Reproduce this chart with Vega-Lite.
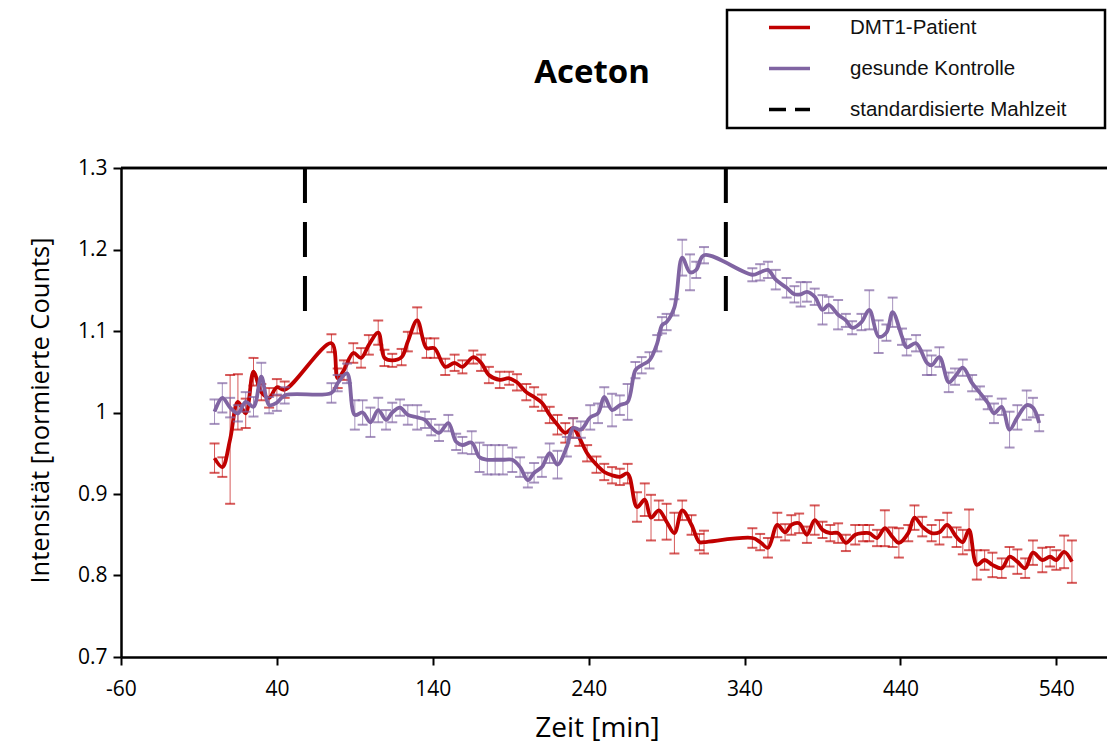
{
  "$schema": "https://vega.github.io/schema/vega-lite/v6.json",
  "width": 986,
  "height": 489,
  "autosize": {"type": "none"},
  "padding": {"left": 121, "top": 168, "right": 0, "bottom": 87},
  "background": "white",
  "title": {"text": "Aceton", "font": "Open Sans", "fontSize": 33, "fontWeight": "bold", "color": "#000000", "anchor": "middle", "dx": -22, "offset": 0, "dy": 107, "baseline": "alphabetic"},
  "datasets": {
    "patient": [
      {"t": 0, "v": 0.944, "e": 0.018}, {"t": 5, "v": 0.933, "e": 0.012}, {"t": 10, "v": 0.967, "e": 0.079}, {"t": 15, "v": 1.013, "e": 0.034}, {"t": 20, "v": 0.999, "e": 0.018}, {"t": 25, "v": 1.05, "e": 0.017}, {"t": 30, "v": 1.025, "e": 0.01}, {"t": 35, "v": 1.018, "e": 0.012}, {"t": 40, "v": 1.031, "e": 0.01}, {"t": 45, "v": 1.028, "e": 0.01},
      {"t": 75, "v": 1.085, "e": 0.011}, {"t": 79, "v": 1.042, "e": 0.012}, {"t": 83, "v": 1.052, "e": 0.012}, {"t": 89, "v": 1.073, "e": 0.012}, {"t": 94, "v": 1.067, "e": 0.012}, {"t": 99, "v": 1.083, "e": 0.012}, {"t": 105, "v": 1.098, "e": 0.015}, {"t": 109, "v": 1.067, "e": 0.01}, {"t": 114, "v": 1.064, "e": 0.008}, {"t": 120, "v": 1.068, "e": 0.01}, {"t": 124, "v": 1.087, "e": 0.012}, {"t": 130, "v": 1.113, "e": 0.016}, {"t": 136, "v": 1.079, "e": 0.012}, {"t": 141, "v": 1.079, "e": 0.012}, {"t": 148, "v": 1.056, "e": 0.01}, {"t": 154, "v": 1.061, "e": 0.01}, {"t": 159, "v": 1.056, "e": 0.008}, {"t": 166, "v": 1.068, "e": 0.008}, {"t": 171, "v": 1.061, "e": 0.01}, {"t": 176, "v": 1.046, "e": 0.01}, {"t": 183, "v": 1.04, "e": 0.01}, {"t": 189, "v": 1.042, "e": 0.008}, {"t": 194, "v": 1.037, "e": 0.01}, {"t": 200, "v": 1.025, "e": 0.01}, {"t": 205, "v": 1.019, "e": 0.012}, {"t": 210, "v": 1.012, "e": 0.01}, {"t": 215, "v": 0.997, "e": 0.01}, {"t": 220, "v": 0.985, "e": 0.012}, {"t": 225, "v": 0.975, "e": 0.012}, {"t": 230, "v": 0.981, "e": 0.012}, {"t": 234, "v": 0.969, "e": 0.01}, {"t": 239, "v": 0.95, "e": 0.01}, {"t": 245, "v": 0.936, "e": 0.01}, {"t": 250, "v": 0.927, "e": 0.01}, {"t": 255, "v": 0.923, "e": 0.01}, {"t": 260, "v": 0.921, "e": 0.01}, {"t": 265, "v": 0.925, "e": 0.012}, {"t": 271, "v": 0.884, "e": 0.018}, {"t": 276, "v": 0.893, "e": 0.02}, {"t": 280, "v": 0.871, "e": 0.028}, {"t": 285, "v": 0.88, "e": 0.012}, {"t": 290, "v": 0.866, "e": 0.022}, {"t": 295, "v": 0.852, "e": 0.025}, {"t": 300, "v": 0.88, "e": 0.012}, {"t": 306, "v": 0.862, "e": 0.012}, {"t": 311, "v": 0.841, "e": 0.01}, {"t": 314, "v": 0.841, "e": 0.014},
      {"t": 345, "v": 0.846, "e": 0.012}, {"t": 350, "v": 0.841, "e": 0.01}, {"t": 355, "v": 0.834, "e": 0.012}, {"t": 361, "v": 0.862, "e": 0.015}, {"t": 366, "v": 0.853, "e": 0.01}, {"t": 370, "v": 0.862, "e": 0.012}, {"t": 375, "v": 0.864, "e": 0.012}, {"t": 380, "v": 0.85, "e": 0.01}, {"t": 385, "v": 0.868, "e": 0.018}, {"t": 390, "v": 0.856, "e": 0.01}, {"t": 395, "v": 0.852, "e": 0.01}, {"t": 400, "v": 0.852, "e": 0.012}, {"t": 405, "v": 0.84, "e": 0.01}, {"t": 411, "v": 0.85, "e": 0.012}, {"t": 416, "v": 0.852, "e": 0.01}, {"t": 420, "v": 0.852, "e": 0.01}, {"t": 425, "v": 0.846, "e": 0.01}, {"t": 430, "v": 0.858, "e": 0.022}, {"t": 435, "v": 0.847, "e": 0.012}, {"t": 439, "v": 0.84, "e": 0.018}, {"t": 445, "v": 0.852, "e": 0.01}, {"t": 449, "v": 0.871, "e": 0.015}, {"t": 454, "v": 0.86, "e": 0.012}, {"t": 460, "v": 0.852, "e": 0.01}, {"t": 465, "v": 0.853, "e": 0.015}, {"t": 470, "v": 0.862, "e": 0.015}, {"t": 476, "v": 0.847, "e": 0.012}, {"t": 480, "v": 0.841, "e": 0.015}, {"t": 484, "v": 0.856, "e": 0.025}, {"t": 489, "v": 0.813, "e": 0.018}, {"t": 494, "v": 0.819, "e": 0.012}, {"t": 499, "v": 0.813, "e": 0.015}, {"t": 505, "v": 0.809, "e": 0.012}, {"t": 510, "v": 0.823, "e": 0.012}, {"t": 515, "v": 0.817, "e": 0.015}, {"t": 520, "v": 0.809, "e": 0.012}, {"t": 525, "v": 0.828, "e": 0.015}, {"t": 531, "v": 0.819, "e": 0.015}, {"t": 536, "v": 0.823, "e": 0.012}, {"t": 540, "v": 0.819, "e": 0.012}, {"t": 545, "v": 0.829, "e": 0.02}, {"t": 550, "v": 0.817, "e": 0.026}
    ],
    "kontrolle": [
      {"t": 0, "v": 1.001, "e": 0.015}, {"t": 5, "v": 1.018, "e": 0.018}, {"t": 10, "v": 1.006, "e": 0.012}, {"t": 15, "v": 0.999, "e": 0.01}, {"t": 20, "v": 1.013, "e": 0.012}, {"t": 25, "v": 1.007, "e": 0.012}, {"t": 30, "v": 1.044, "e": 0.017}, {"t": 35, "v": 1.009, "e": 0.01}, {"t": 40, "v": 1.012, "e": 0.01}, {"t": 45, "v": 1.021, "e": 0.01},
      {"t": 75, "v": 1.024, "e": 0.012}, {"t": 79, "v": 1.036, "e": 0.01}, {"t": 85, "v": 1.048, "e": 0.012}, {"t": 90, "v": 0.997, "e": 0.018}, {"t": 95, "v": 1.0, "e": 0.015}, {"t": 100, "v": 0.988, "e": 0.018}, {"t": 105, "v": 1.003, "e": 0.015}, {"t": 110, "v": 0.991, "e": 0.012}, {"t": 114, "v": 1.0, "e": 0.012}, {"t": 119, "v": 1.006, "e": 0.01}, {"t": 124, "v": 0.997, "e": 0.012}, {"t": 130, "v": 0.994, "e": 0.015}, {"t": 135, "v": 0.991, "e": 0.01}, {"t": 139, "v": 0.982, "e": 0.01}, {"t": 144, "v": 0.975, "e": 0.01}, {"t": 150, "v": 0.987, "e": 0.01}, {"t": 155, "v": 0.964, "e": 0.01}, {"t": 159, "v": 0.96, "e": 0.01}, {"t": 165, "v": 0.963, "e": 0.014}, {"t": 170, "v": 0.945, "e": 0.018}, {"t": 175, "v": 0.942, "e": 0.018}, {"t": 180, "v": 0.942, "e": 0.018}, {"t": 185, "v": 0.942, "e": 0.018}, {"t": 191, "v": 0.942, "e": 0.015}, {"t": 196, "v": 0.933, "e": 0.012}, {"t": 201, "v": 0.917, "e": 0.009}, {"t": 205, "v": 0.926, "e": 0.012}, {"t": 210, "v": 0.933, "e": 0.012}, {"t": 215, "v": 0.95, "e": 0.012}, {"t": 220, "v": 0.936, "e": 0.017}, {"t": 226, "v": 0.958, "e": 0.012},
      {"t": 230, "v": 0.981, "e": 0.012}, {"t": 235, "v": 0.979, "e": 0.01}, {"t": 241, "v": 0.994, "e": 0.015}, {"t": 246, "v": 0.999, "e": 0.012}, {"t": 250, "v": 1.019, "e": 0.012}, {"t": 255, "v": 1.003, "e": 0.02}, {"t": 260, "v": 1.009, "e": 0.012}, {"t": 265, "v": 1.013, "e": 0.022}, {"t": 270, "v": 1.052, "e": 0.01}, {"t": 274, "v": 1.058, "e": 0.01}, {"t": 279, "v": 1.064, "e": 0.01}, {"t": 284, "v": 1.085, "e": 0.01}, {"t": 287, "v": 1.107, "e": 0.01}, {"t": 290, "v": 1.111, "e": 0.01}, {"t": 295, "v": 1.129, "e": 0.01}, {"t": 300, "v": 1.19, "e": 0.022}, {"t": 305, "v": 1.172, "e": 0.022}, {"t": 309, "v": 1.175, "e": 0.01}, {"t": 314, "v": 1.193, "e": 0.01},
      {"t": 345, "v": 1.169, "e": 0.008}, {"t": 350, "v": 1.172, "e": 0.01}, {"t": 355, "v": 1.175, "e": 0.01}, {"t": 360, "v": 1.163, "e": 0.012}, {"t": 367, "v": 1.153, "e": 0.012}, {"t": 372, "v": 1.145, "e": 0.01}, {"t": 376, "v": 1.145, "e": 0.015}, {"t": 380, "v": 1.148, "e": 0.012}, {"t": 385, "v": 1.142, "e": 0.01}, {"t": 390, "v": 1.126, "e": 0.018}, {"t": 394, "v": 1.132, "e": 0.01}, {"t": 400, "v": 1.12, "e": 0.018}, {"t": 405, "v": 1.113, "e": 0.008}, {"t": 409, "v": 1.104, "e": 0.008}, {"t": 415, "v": 1.111, "e": 0.01}, {"t": 420, "v": 1.126, "e": 0.024}, {"t": 426, "v": 1.093, "e": 0.02}, {"t": 431, "v": 1.098, "e": 0.01}, {"t": 435, "v": 1.123, "e": 0.018}, {"t": 441, "v": 1.093, "e": 0.01}, {"t": 444, "v": 1.08, "e": 0.01}, {"t": 450, "v": 1.085, "e": 0.01}, {"t": 457, "v": 1.061, "e": 0.015}, {"t": 460, "v": 1.058, "e": 0.012}, {"t": 465, "v": 1.068, "e": 0.012}, {"t": 471, "v": 1.037, "e": 0.012}, {"t": 475, "v": 1.044, "e": 0.01}, {"t": 480, "v": 1.055, "e": 0.01}, {"t": 486, "v": 1.036, "e": 0.01}, {"t": 491, "v": 1.024, "e": 0.008}, {"t": 496, "v": 1.012, "e": 0.008}, {"t": 500, "v": 0.999, "e": 0.012}, {"t": 505, "v": 1.007, "e": 0.01}, {"t": 510, "v": 0.979, "e": 0.022}, {"t": 515, "v": 0.994, "e": 0.015}, {"t": 521, "v": 1.009, "e": 0.018}, {"t": 525, "v": 1.006, "e": 0.012}, {"t": 529, "v": 0.987, "e": 0.01}
    ],
    "mahlzeit": [
      {"t": 58, "oben": 1.3, "unten": 1.12},
      {"t": 328, "oben": 1.3, "unten": 1.12}
    ]
  },
  "layer": [
    {
      "data": {"name": "patient"},
      "mark": {"type": "errorbar", "color": "#C00000", "opacity": 0.65, "ticks": true},
      "encoding": {
        "x": {
          "field": "t", "type": "quantitative", "title": "Zeit [min]",
          "scale": {"domain": [-60, 572.5], "nice": false, "zero": false},
          "axis": {
            "title": "Zeit [min]", "values": [-60, 40, 140, 240, 340, 440, 540], "labelExpr": "'' + datum.value",
            "grid": false, "domainColor": "#000000", "domainWidth": 2.5, "tickColor": "#000000", "tickWidth": 2, "tickSize": 8,
            "labelFont": "Open Sans", "labelFontSize": 21, "labelColor": "#000000", "labelPadding": 13, "labelFlush": false,
            "titleFont": "Open Sans", "titleFontSize": 28, "titleFontWeight": "normal", "titleColor": "#000000",
            "titleX": 476, "titleY": 79, "titleBaseline": "alphabetic", "titleAlign": "center", "titleAnchor": null
          }
        },
        "y": {"field": "v", "type": "quantitative", "title": "Intensität [normierte Counts]",
          "scale": {"domain": [0.7, 1.3], "nice": false, "zero": false},
          "axis": {
            "title": "Intensität [normierte Counts]", "values": [0.7, 0.8, 0.9, 1.0, 1.1, 1.2, 1.3], "format": "~g",
            "grid": false, "domainColor": "#000000", "domainWidth": 2.5, "tickColor": "#000000", "tickWidth": 2, "tickSize": 8,
            "labelFont": "Open Sans", "labelFontSize": 21, "labelColor": "#000000", "labelPadding": 6,
            "titleFont": "Open Sans", "titleFontSize": 25.5, "titleFontWeight": "normal", "titleColor": "#000000",
            "titleX": -81, "titleY": 242, "titleBaseline": "middle", "titleAlign": "center", "titleAngle": -90, "titleAnchor": null
          }
        },
        "yError": {"field": "e"}
      }
    },
    {
      "data": {"name": "patient"},
      "mark": {"type": "line", "strokeWidth": 3.8, "interpolate": "catmull-rom"},
      "encoding": {
        "x": {"field": "t", "type": "quantitative", "title": "Zeit [min]"},
        "y": {"field": "v", "type": "quantitative", "title": "Intensität [normierte Counts]"},
        "color": {
          "datum": "DMT1-Patient", "type": "nominal",
          "scale": {"domain": ["DMT1-Patient", "gesunde Kontrolle", "standardisierte Mahlzeit"], "range": ["#C00000", "#8064A2", "#000000"]},
          "legend": {
            "title": null, "orient": "none", "legendX": 606, "legendY": -158,
            "fillColor": "white", "strokeColor": "#000000", "padding": 8,
            "symbolType": "stroke", "symbolSize": 1681, "symbolStrokeWidth": 3.5, "symbolOffset": 32,
            "labelFont": "Liberation Sans", "labelFontSize": 20.5, "labelColor": "#111111", "labelOffset": 38, "labelLimit": 600,
            "rowPadding": 20, "clipHeight": 19,
            "labelExpr": "datum.label + '\u2800\u2800'",
            "encode": {
              "legend": {"update": {"strokeWidth": {"value": 2.5}}},
              "symbols": {"update": {"strokeDash": {"signal": "datum.value === 'standardisierte Mahlzeit' ? [17, 9] : [1, 0]"}}}
            }
          }
        }
      }
    },
    {
      "data": {"name": "kontrolle"},
      "mark": {"type": "errorbar", "color": "#8064A2", "opacity": 0.7, "ticks": true},
      "encoding": {
        "x": {"field": "t", "type": "quantitative", "title": "Zeit [min]"},
        "y": {"field": "v", "type": "quantitative", "title": "Intensität [normierte Counts]"},
        "yError": {"field": "e"}
      }
    },
    {
      "data": {"name": "kontrolle"},
      "mark": {"type": "line", "strokeWidth": 3.8, "interpolate": "catmull-rom"},
      "encoding": {
        "x": {"field": "t", "type": "quantitative", "title": "Zeit [min]"},
        "y": {"field": "v", "type": "quantitative", "title": "Intensität [normierte Counts]"},
        "color": {"datum": "gesunde Kontrolle", "type": "nominal"}
      }
    },
    {
      "data": {"name": "mahlzeit"},
      "mark": {"type": "rule", "strokeWidth": 4, "strokeDash": [35, 19]},
      "encoding": {
        "x": {"field": "t", "type": "quantitative", "title": "Zeit [min]"},
        "y": {"field": "oben", "type": "quantitative", "title": "Intensität [normierte Counts]"},
        "y2": {"field": "unten"},
        "color": {"datum": "standardisierte Mahlzeit", "type": "nominal"}
      }
    },
    {
      "data": {"name": "mahlzeit"},
      "mark": {"type": "rule", "color": "#000000", "strokeWidth": 2.5},
      "encoding": {
        "x": {"datum": -60},
        "x2": {"datum": 572.5},
        "y": {"datum": 1.3}
      }
    }
  ],
  "config": {
    "view": {"stroke": null},
    "font": "Open Sans",
    "errorbar": {"thickness": 2, "ticks": {"size": 10, "thickness": 2}}
  }
}
